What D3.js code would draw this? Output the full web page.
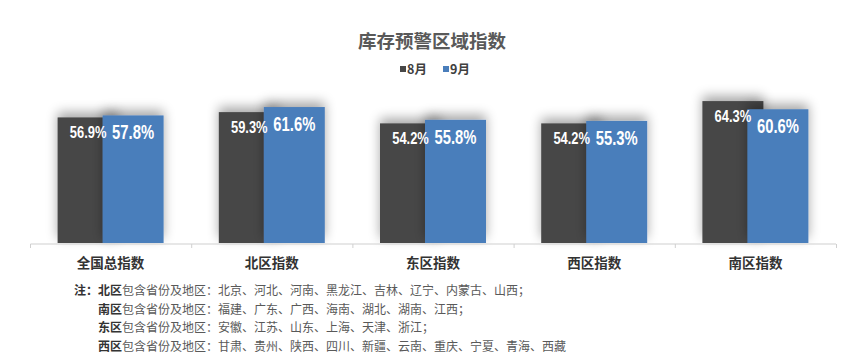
<!DOCTYPE html>
<html><head><meta charset="utf-8">
<script src="https://cdn.jsdelivr.net/npm/d3@7"></script>
<style>
body{margin:0;background:#fff;}
svg{display:block;}
</style></head>
<body><svg id="chart" width="865" height="361"></svg>
<script>
const categories = ["全国总指数","北区指数","东区指数","西区指数","南区指数"];
const seriesNames = ["8月","9月"];
const aug = [56.9, 59.3, 54.2, 54.2, 64.3];
const sep = [57.8, 61.6, 55.8, 55.3, 60.6];
const colors = ["#474747","#4a7ebb"];
const notes = [
  ["北区","包含省份及地区：北京、河北、河南、黑龙江、吉林、辽宁、内蒙古、山西；"],
  ["南区","包含省份及地区：福建、广东、广西、海南、湖北、湖南、江西；"],
  ["东区","包含省份及地区：安徽、江苏、山东、上海、天津、浙江；"],
  ["西区","包含省份及地区：甘肃、贵州、陕西、四川、新疆、云南、重庆、宁夏、青海、西藏"]
];

const svg = d3.select("#chart");
const cjk = "'Noto Sans CJK SC','Noto Sans',sans-serif";
const numFont = "'Liberation Sans',Arial,sans-serif";

const defs = svg.append("defs");
const f = defs.append("filter").attr("id","sh").attr("x","-30%").attr("y","-40%").attr("width","160%").attr("height","160%");
f.append("feGaussianBlur").attr("in","SourceAlpha").attr("stdDeviation",6).attr("result","b");
f.append("feOffset").attr("in","b").attr("dy",-5).attr("result","o");
f.append("feComponentTransfer").attr("in","o").attr("result","c").append("feFuncA").attr("type","linear").attr("slope",0.35);
const m = f.append("feMerge"); m.append("feMergeNode").attr("in","c"); m.append("feMergeNode").attr("in","SourceGraphic");

const x = d3.scaleBand().domain(categories).range([30,836]).paddingInner(0).paddingOuter(0);
const y = d3.scaleLinear().domain([0,70]).range([243,88.5]);

// title
svg.append("text").attr("x",432).attr("y",48).attr("text-anchor","middle")
  .attr("font-family",cjk).attr("font-weight","bold").attr("font-size",18.5).attr("fill","#595959")
  .text("库存预警区域指数");

// legend
const lg = svg.append("g");
const legX = [400,443];
seriesNames.forEach((s,i)=>{
  lg.append("rect").attr("x",legX[i]).attr("y",66).attr("width",6).attr("height",6).attr("fill",colors[i]);
  lg.append("text").attr("x",legX[i]+7).attr("y",74).attr("font-family",cjk).attr("font-weight","bold")
    .attr("font-size",12.5).attr("fill","#404040").text(s);
});

// bars
const bw = 61, off = 45;
const g = svg.append("g");
const groups = g.selectAll("g.cat").data(categories).join("g").attr("class","cat")
  .attr("transform",d=>`translate(${x(d)+x.bandwidth()/2 - (bw+off)/2},0)`);
[aug,sep].forEach((vals,si)=>{
  groups.append("rect")
    .attr("x",si*off).attr("width",bw)
    .attr("y",(d,i)=>y(vals[i])).attr("height",(d,i)=>y(0)-y(vals[i]))
    .attr("fill",colors[si]).attr("filter","url(#sh)");
});
[aug,sep].forEach((vals,si)=>{
  groups.append("text")
    .attr("transform",(d,i)=>`translate(${si*off+bw/2},${y(vals[i]) + (si===0?21:24)}) scale(0.76,1)`)
    .attr("text-anchor","middle").attr("fill","#fff")
    .attr("font-family",numFont).attr("font-weight","bold")
    .attr("font-size",si===0?17:19.5)
    .text((d,i)=>vals[i].toFixed(1)+"%");
});

// axis
const ax = svg.append("g").attr("transform","translate(0,244)")
  .call(d3.axisBottom(x).tickSize(0).tickFormat(""));
ax.select(".domain").attr("stroke","#d0d0d0").attr("stroke-width",1.2).attr("d","M30.5,0H836");
const tickPos = d3.range(categories.length+1).map(i=>30+i*x.step());
ax.selectAll("line.tk").data(tickPos).join("line").attr("class","tk")
  .attr("x1",d=>d+0.5).attr("x2",d=>d+0.5).attr("y1",0).attr("y2",4).attr("stroke","#d0d0d0");
svg.selectAll("text.cat").data(categories).join("text").attr("class","cat")
  .attr("x",d=>x(d)+x.bandwidth()/2).attr("y",268).attr("text-anchor","middle")
  .attr("font-family",cjk).attr("font-weight","bold").attr("font-size",13.5).attr("fill","#333")
  .text(d=>d);

// notes
const ng = svg.append("g");
ng.append("text").attr("x",74).attr("y",295).attr("font-family",cjk).attr("font-weight","bold")
  .attr("font-size",12).attr("fill","#333").text("注：");
notes.forEach((n,i)=>{
  const t = ng.append("text").attr("x",98).attr("y",295+i*18.5).attr("font-family",cjk).attr("font-size",12);
  t.append("tspan").attr("font-weight","bold").attr("fill","#333").text(n[0]);
  t.append("tspan").attr("fill","#595959").text(n[1]);
});
</script></body></html>
